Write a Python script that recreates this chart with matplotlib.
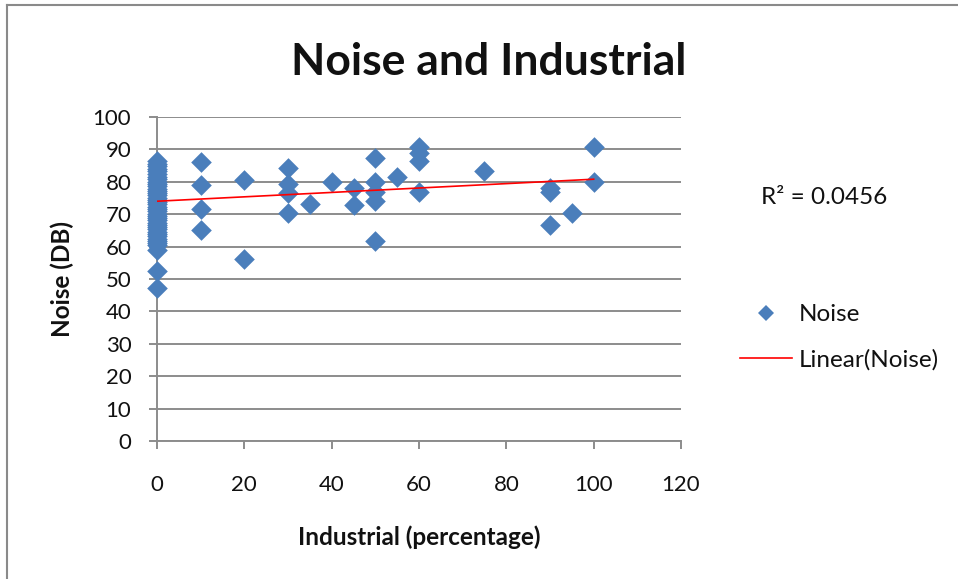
import numpy as np
import matplotlib
matplotlib.use("Agg")
from matplotlib import pyplot as plt
from matplotlib.lines import Line2D

plt.rcParams['font.family'] = ['Lato', 'DejaVu Sans']

# industrial share (%) and measured noise (dB) per site
industrial_zero = [0] * 40
noise_zero = [86.5, 85.6, 84.8, 84.0, 83.2, 82.4, 81.6, 80.8, 80.0, 79.3,
              78.6, 77.9, 77.2, 76.5, 75.8, 75.1, 74.4, 73.7, 73.0, 72.3,
              71.6, 70.9, 70.2, 69.5, 68.8, 68.1, 67.4, 66.7, 66.0, 65.3,
              64.6, 63.9, 63.2, 62.5, 61.8, 61.1, 60.4, 59.0, 52.4, 47.1]
industrial_rest = [10, 10, 10, 10, 20, 20, 30, 30, 30, 30, 35, 40, 45, 45,
                   50, 50, 50, 50, 50, 55, 60, 60, 60, 60, 75, 90, 90, 90,
                   95, 100, 100]
noise_rest = [86.0, 79.0, 71.5, 65.0, 80.5, 56.2, 84.2, 79.3, 76.5, 70.4,
              73.1, 80.0, 78.0, 72.8, 87.5, 80.0, 76.8, 74.2, 61.8, 81.6,
              90.8, 89.0, 86.5, 76.9, 83.4, 78.0, 77.0, 66.7, 70.3, 90.8,
              80.0]

industrial = industrial_zero + industrial_rest
noise = noise_zero + noise_rest

# linear trend as reported for the series
trend_intercept = 74.0
trend_slope = 0.068
trend_r2 = 0.0456

fig = plt.figure(figsize=(9.58, 5.79), dpi=100)
ax = fig.add_axes([157 / 958, 1 - 441 / 579, 524 / 958, 324 / 579])

blue = '#4a7ebb'
grid_col = '#8c8c8c'
text_col = '#111111'

ax.scatter(industrial, noise, marker='D', s=10.5 ** 2, color=blue,
           linewidths=0, zorder=3, clip_on=False)

tx = np.array([0, 100])
ax.plot(tx, trend_intercept + trend_slope * tx, color='#ff0000', lw=1.2, zorder=4)

ax.set_xlim(0, 120)
ax.set_ylim(0, 100)
ax.set_xticks(np.arange(0, 121, 20))
ax.set_yticks(np.arange(0, 101, 10))
ax.yaxis.grid(True, color=grid_col, lw=1.4)
ax.set_axisbelow(True)

for side in ['top', 'right']:
    ax.spines[side].set_visible(False)
for side in ['left', 'bottom']:
    ax.spines[side].set_color(grid_col)
    ax.spines[side].set_linewidth(1.4)

ax.tick_params(axis='both', colors=grid_col, labelcolor=text_col,
               labelsize=16, length=5.5, width=1.4)
ax.tick_params(axis='y', pad=13)
ax.tick_params(axis='x', pad=19)

ax.set_xlabel('Industrial (percentage)', fontsize=17.5, fontweight='bold',
              va='center', color=text_col)
ax.xaxis.set_label_coords(0.5, (441 - 537) / 324)
ax.set_ylabel('Noise (DB)', fontsize=17.5, fontweight='bold', va='center',
              color=text_col)
ax.yaxis.set_label_coords((62 - 157) / 524, 0.5)

fig.text(489 / 958, 1 - 62 / 579, 'Noise and Industrial', fontsize=32,
         fontweight='bold', ha='center', va='center', color=text_col)

fig.text(761 / 958, 1 - 197 / 579, 'R² = %.4f' % trend_r2, fontsize=17.5,
         ha='left', va='center', color=text_col)

handles = [Line2D([], [], marker='D', ls='none', color=blue, markersize=8.5,
                  markeredgewidth=0),
           Line2D([], [], color='#ff0000', lw=1.2)]
leg = fig.legend(handles, ['Noise', 'Linear(Noise)'], loc='upper left',
                 bbox_to_anchor=(740 / 958, 1 - 304 / 579), frameon=False,
                 fontsize=17.5, handlelength=2.15, handletextpad=0.25,
                 labelspacing=1.0, borderpad=0, borderaxespad=0)
for t in leg.get_texts():
    t.set_color(text_col)

# chart frame, left and top edges
fig.add_artist(Line2D([7 / 958, 7 / 958], [0, 1 - 5 / 579], color='#8a8a8a', lw=1.5))
fig.add_artist(Line2D([7 / 958, 1], [1 - 5 / 579, 1 - 5 / 579], color='#8a8a8a', lw=1.5))

fig.savefig('out.png', dpi=100)
